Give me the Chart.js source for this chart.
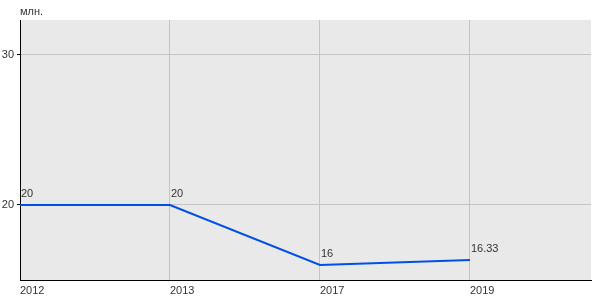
<!DOCTYPE html>
<html>
<head>
<meta charset="utf-8">
<script src="https://cdn.jsdelivr.net/npm/chart.js@4/dist/chart.umd.min.js"></script>
<style>
  html, body { margin: 0; padding: 0; background: #fff; }
</style>
</head>
<body>
<canvas id="chart" width="600" height="300"></canvas>
<script>
const years = ['2012', '2013', '2017', '2019'];
const values = [20, 20, 16, 16.33];
const valueLabels = ['20', '20', '16', '16.33'];
const yTicks = [20, 30];
const unitLabel = 'млн.';

const FONT = '"Liberation Sans", Arial, sans-serif';

const plotBackground = {
  id: 'plotBackground',
  beforeDraw(chart) {
    const { ctx, chartArea: a } = chart;
    ctx.save();
    ctx.fillStyle = '#e9e9e9';
    ctx.fillRect(a.left, a.top, a.right - a.left, a.bottom - a.top);
    ctx.restore();
  }
};

const pointLabels = {
  id: 'pointLabels',
  afterDatasetsDraw(chart) {
    const { ctx } = chart;
    const meta = chart.getDatasetMeta(0);
    ctx.save();
    ctx.font = '11px ' + FONT;
    ctx.fillStyle = '#333';
    ctx.textAlign = 'left';
    ctx.textBaseline = 'alphabetic';
    meta.data.forEach((pt, i) => {
      ctx.fillText(valueLabels[i], pt.x + 1, pt.y - 8);
    });
    // unit caption
    ctx.fillText(unitLabel, chart.chartArea.left, 15);
    ctx.restore();
  }
};

new Chart(document.getElementById('chart'), {
  type: 'line',
  data: {
    datasets: [{
      data: values.map((v, i) => ({ x: i, y: v })),
      borderColor: '#0050e6',
      borderWidth: 2,
      pointRadius: 0,
      tension: 0,
      fill: false
    }]
  },
  options: {
    responsive: false,
    animation: false,
    layout: { padding: { top: 20, right: 9, left: 0, bottom: 0 } },
    plugins: {
      legend: { display: false },
      tooltip: { enabled: false }
    },
    scales: {
      x: {
        type: 'linear',
        min: 0,
        max: 3.807,
        afterBuildTicks: axis => { axis.ticks = years.map((_, i) => ({ value: i })); },
        afterFit: axis => { axis.height = 20; },
        ticks: {
          align: 'start',
          padding: 4,
          maxRotation: 0,
          autoSkip: false,
          color: '#333',
          font: { size: 11, family: FONT },
          callback: v => years[v]
        },
        grid: { color: '#c4c4c4', lineWidth: 1, drawTicks: false },
        border: { color: '#000', width: 1 }
      },
      y: {
        min: 15,
        max: 32.33,
        afterBuildTicks: axis => { axis.ticks = yTicks.map(v => ({ value: v })); },
        afterFit: axis => { axis.width = 20; },
        ticks: {
          padding: 3,
          color: '#333',
          font: { size: 11, family: FONT }
        },
        grid: { color: '#c4c4c4', lineWidth: 1, tickLength: 3, tickColor: '#000' },
        border: { color: '#000', width: 1 }
      }
    }
  },
  plugins: [plotBackground, pointLabels]
});
</script>
</body>
</html>
